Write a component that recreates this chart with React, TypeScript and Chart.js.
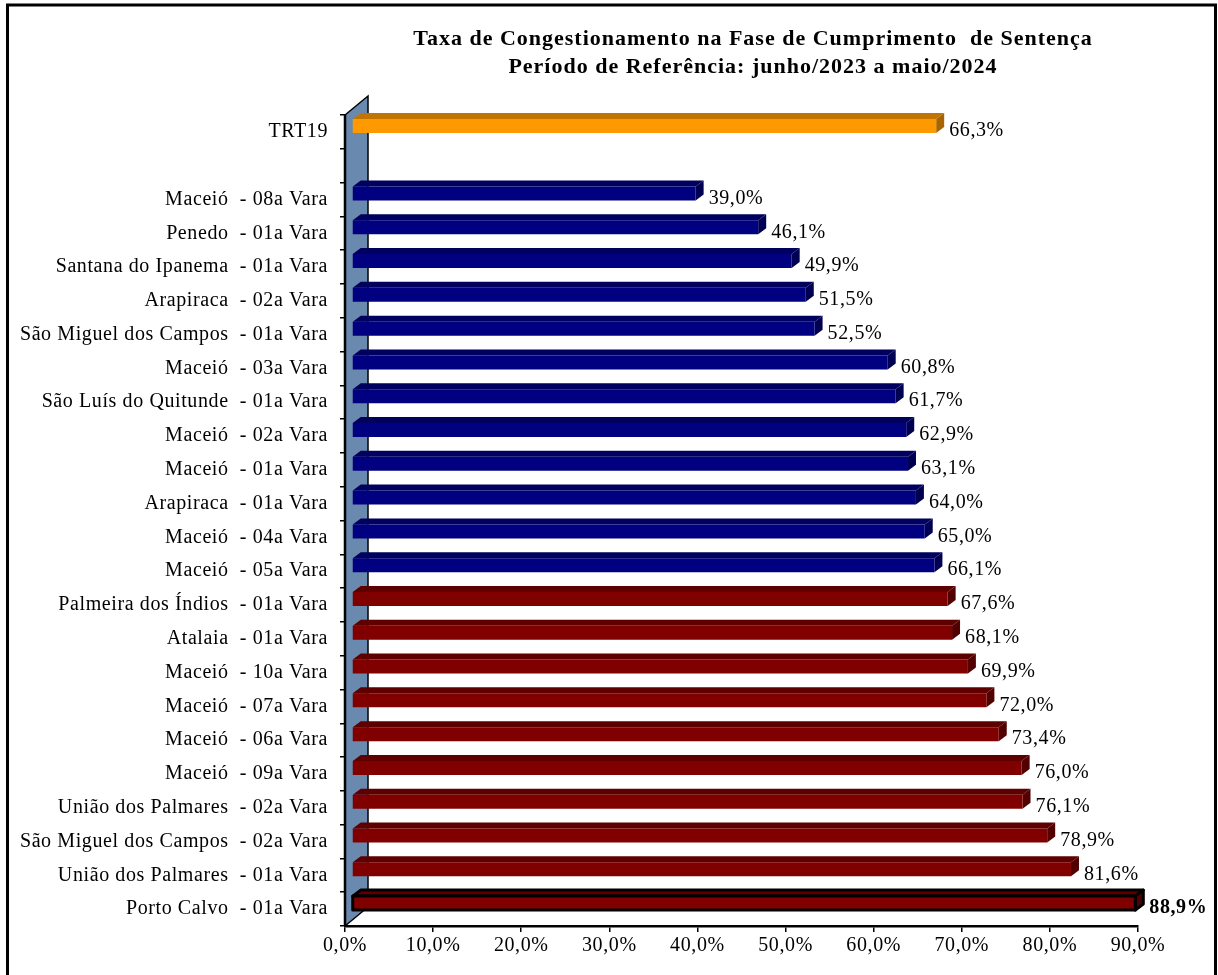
import React, { useEffect, useRef } from 'react';
import { Chart, registerables } from 'chart.js';

Chart.register(...registerables);

const titleLines = [
  'Taxa de Congestionamento na Fase de Cumprimento  de Sentença',
  'Período de Referência: junho/2023 a maio/2024',
];

const categories = [
  'TRT19',
  '',
  'Maceió  - 08a Vara',
  'Penedo  - 01a Vara',
  'Santana do Ipanema  - 01a Vara',
  'Arapiraca  - 02a Vara',
  'São Miguel dos Campos  - 01a Vara',
  'Maceió  - 03a Vara',
  'São Luís do Quitunde  - 01a Vara',
  'Maceió  - 02a Vara',
  'Maceió  - 01a Vara',
  'Arapiraca  - 01a Vara',
  'Maceió  - 04a Vara',
  'Maceió  - 05a Vara',
  'Palmeira dos Índios  - 01a Vara',
  'Atalaia  - 01a Vara',
  'Maceió  - 10a Vara',
  'Maceió  - 07a Vara',
  'Maceió  - 06a Vara',
  'Maceió  - 09a Vara',
  'União dos Palmares  - 02a Vara',
  'São Miguel dos Campos  - 02a Vara',
  'União dos Palmares  - 01a Vara',
  'Porto Calvo  - 01a Vara',
];

const values: (number | null)[] = [
  66.3, null, 39.0, 46.1, 49.9, 51.5, 52.5, 60.8, 61.7, 62.9, 63.1, 64.0, 65.0, 66.1,
  67.6, 68.1, 69.9, 72.0, 73.4, 76.0, 76.1, 78.9, 81.6, 88.9,
];

const groups = [
  'trt', '', 'low', 'low', 'low', 'low', 'low', 'low', 'low', 'low', 'low', 'low', 'low', 'low',
  'high', 'high', 'high', 'high', 'high', 'high', 'high', 'high', 'high', 'high',
];

const highlighted = 'Porto Calvo  - 01a Vara';

const xMin = 0;
const xMax = 90;
const xStep = 10;

const palette: Record<string, { front: string; top: string; side: string }> = {
  trt: { front: '#FF9900', top: '#C27400', side: '#A86400' },
  low: { front: '#000080', top: '#00005E', side: '#000052' },
  high: { front: '#800000', top: '#5E0000', side: '#520000' },
};

const FONT = "'Liberation Serif', 'Times New Roman', serif";

const fmt = (v: number) => v.toFixed(1).replace('.', ',') + '%';

export default function App() {
  const ref = useRef<HTMLCanvasElement | null>(null);

  useEffect(() => {
    const canvas = ref.current!;
    const SX = 7, SY = -6, DX = 8, DY = -6, H = 14;

    const decor = {
      id: 'decor',
      beforeDraw(chart: any) {
        const ctx = chart.ctx;
        ctx.save();
        ctx.fillStyle = '#ffffff';
        ctx.fillRect(0, 0, chart.width, chart.height);
        ctx.restore();
        (ctx as any).letterSpacing = '0.6px';
      },
      beforeDatasetsDraw(chart: any) {
        const ctx = chart.ctx;
        const a = chart.chartArea;
        const wx = 23, wy = -19;
        ctx.save();
        ctx.beginPath();
        ctx.moveTo(a.left, a.bottom);
        ctx.lineTo(a.left, a.top);
        ctx.lineTo(a.left + wx, a.top + wy);
        ctx.lineTo(a.left + wx, a.bottom + wy);
        ctx.closePath();
        ctx.fillStyle = '#6A89AE';
        ctx.fill();
        ctx.strokeStyle = '#000';
        ctx.lineWidth = 1.5;
        ctx.stroke();
        ctx.beginPath();
        ctx.moveTo(a.left, a.bottom);
        ctx.lineTo(a.left, a.top);
        ctx.lineWidth = 2.5;
        ctx.stroke();
        ctx.restore();
      },
      afterDatasetsDraw(chart: any) {
        const ctx = chart.ctx;
        const meta = chart.getDatasetMeta(0);
        ctx.save();
        meta.data.forEach((el: any, i: number) => {
          const v = values[i];
          if (v === null || v === undefined) return;
          const c = palette[groups[i]];
          const x0 = el.base + SX;
          const x1 = el.x + SX;
          const yt = el.y - H / 2 + SY;
          const yb = el.y + H / 2 + SY;
          const hl = categories[i] === highlighted;
          const faces: [string, number[][]][] = [
            [c.top, [[x0, yt], [x1, yt], [x1 + DX, yt + DY], [x0 + DX, yt + DY]]],
            [c.side, [[x1, yt], [x1 + DX, yt + DY], [x1 + DX, yb + DY], [x1, yb]]],
            [c.front, [[x0, yt], [x1, yt], [x1, yb], [x0, yb]]],
          ];
          faces.forEach(([col, pts]) => {
            ctx.beginPath();
            pts.forEach((p, k) => (k === 0 ? ctx.moveTo(p[0], p[1]) : ctx.lineTo(p[0], p[1])));
            ctx.closePath();
            ctx.fillStyle = col;
            ctx.fill();
            if (hl) {
              ctx.strokeStyle = '#000';
              ctx.lineWidth = 3;
              ctx.lineJoin = 'round';
              ctx.stroke();
            }
          });
          (ctx as any).letterSpacing = '0.6px';
          ctx.font = (hl ? 'bold ' : '') + '20px ' + FONT;
          ctx.fillStyle = '#000';
          ctx.textAlign = 'left';
          ctx.textBaseline = 'middle';
          ctx.fillText(fmt(v), x1 + DX + (hl ? 6 : 5), el.y - 1);
        });
        ctx.restore();
      },
      afterDraw(chart: any) {
        const ctx = chart.ctx;
        ctx.save();
        (ctx as any).letterSpacing = '1px';
        ctx.font = 'bold 22px ' + FONT;
        ctx.fillStyle = '#000';
        ctx.textAlign = 'center';
        ctx.textBaseline = 'middle';
        ctx.fillText(titleLines[0], 753, 39);
        ctx.fillText(titleLines[1], 753, 67);
        ctx.strokeStyle = '#000';
        ctx.lineWidth = 3;
        ctx.beginPath();
        ctx.moveTo(7.5, 980);
        ctx.lineTo(7.5, 5);
        ctx.lineTo(1215.5, 5);
        ctx.lineTo(1215.5, 980);
        ctx.stroke();
        ctx.restore();
      },
    };

    const chart = new Chart(canvas, {
      type: 'bar',
      data: {
        labels: categories,
        datasets: [
          {
            data: values as any,
            backgroundColor: 'rgba(0,0,0,0)',
            borderWidth: 0,
            barThickness: 14,
          },
        ],
      },
      options: {
        indexAxis: 'y',
        responsive: false,
        animation: false,
        events: [],
        layout: { padding: { top: 115, left: 0, right: 80, bottom: 0 } },
        plugins: {
          legend: { display: false },
          tooltip: { enabled: false },
          title: { display: false },
        },
        scales: {
          x: {
            min: xMin,
            max: xMax,
            afterFit: (s: any) => {
              s.height = 49;
            },
            ticks: {
              stepSize: xStep,
              color: '#000',
              font: { family: FONT, size: 20 },
              padding: 2,
              maxRotation: 0,
              callback: (v: any) => fmt(Number(v)),
            },
            grid: {
              drawOnChartArea: false,
              drawTicks: true,
              tickLength: 6,
              color: '#000',
              lineWidth: 1.5,
            },
            border: { display: true, color: '#000', width: 2.5 },
          },
          y: {
            afterFit: (s: any) => {
              s.width = 345;
            },
            ticks: {
              color: '#000',
              font: { family: FONT, size: 20 },
              padding: 12,
              autoSkip: false,
            },
            grid: {
              drawOnChartArea: false,
              drawTicks: true,
              tickLength: 5,
              color: '#000',
              lineWidth: 1.5,
              offset: true,
            },
            border: { display: true, color: '#000', width: 2 },
          },
        },
      },
      plugins: [decor],
    } as any);

    return () => chart.destroy();
  }, []);

  return (
    <div style={{ position: 'absolute', left: 0, top: 0, width: 1218, height: 975, background: '#fff' }}>
      <canvas ref={ref} width={1218} height={975} style={{ display: 'block', width: 1218, height: 975 }} />
    </div>
  );
}
